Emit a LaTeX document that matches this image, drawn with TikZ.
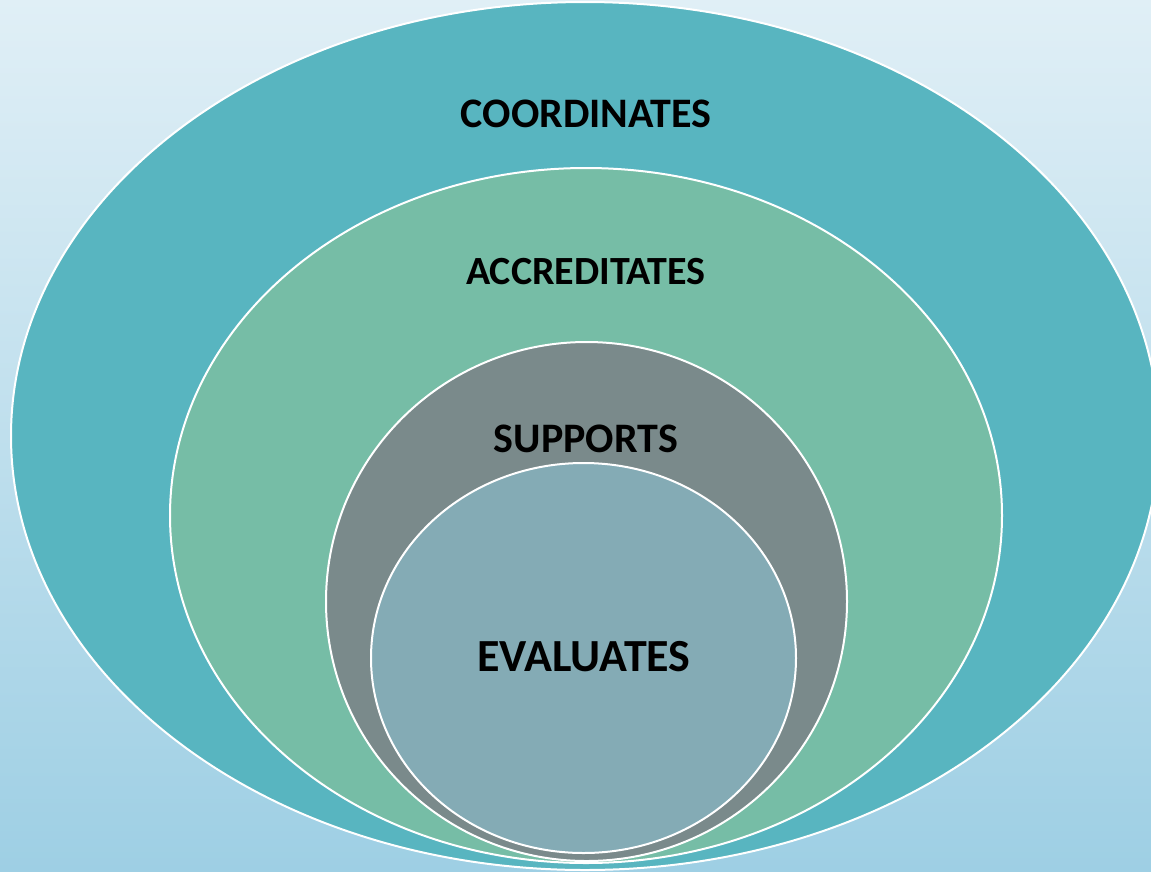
\documentclass[tikz,border=0pt]{standalone}
\usepackage{fontspec}
\setmainfont{Carlito}
\definecolor{bgtop}{HTML}{E0EFF6}
\definecolor{bgbot}{HTML}{9ECFE4}
\definecolor{cteal}{HTML}{58B5C0}
\definecolor{cgreen}{HTML}{76BDA6}
\definecolor{cgray}{HTML}{7A8A8B}
\definecolor{cblue}{HTML}{84ABB5}
\begin{document}
\begin{tikzpicture}[x=1pt,y=-1pt,
  ring/.style={draw=white,line width=2pt},
  lbl/.style={font=\bfseries,text=black,inner sep=0pt}]
\useasboundingbox (0,0) rectangle (1151,871);
\shade[top color=bgtop,bottom color=bgbot] (0,0) rectangle (1151,871);
\fill[ring,fill=cteal] (585,436) ellipse [x radius=574,y radius=434];
\fill[ring,fill=cgreen] (586,515.5) ellipse [x radius=416,y radius=347.5];
\fill[ring,fill=cgray] (586.5,601.5) ellipse [x radius=260.5,y radius=259.5];
\fill[ring,fill=cblue] (583.5,658) ellipse [x radius=212.5,y radius=195];
\node[lbl,font=\fontsize{42}{50}\bfseries\selectfont] (coord) at (586,114) {COORDINATES};
\node[lbl,font=\fontsize{40}{48}\bfseries\selectfont] (accr) at (586,272) {ACCREDITATES};
\node[lbl,font=\fontsize{42}{50}\bfseries\selectfont] (supp) at (586,439) {SUPPORTS};
\node[lbl,font=\fontsize{46}{54}\bfseries\selectfont] (eval) at (584,657) {EVALUATES};
\end{tikzpicture}
\end{document}
